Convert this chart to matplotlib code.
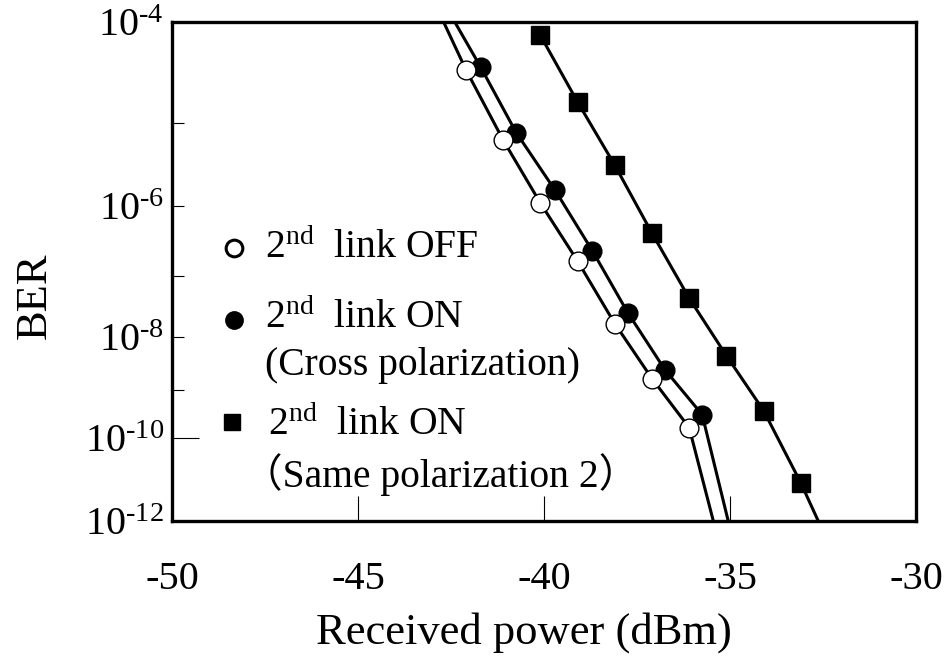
"""BER vs received power, three link conditions, on the usual
-log(-log BER) axis so the curves come out nearly straight."""

import numpy as np
import matplotlib
matplotlib.use('Agg')
import matplotlib.pyplot as plt
from matplotlib.ticker import FixedLocator, FixedFormatter

plt.rcParams['font.family'] = ['Liberation Serif', 'Noto Sans CJK JP']
plt.rcParams['mathtext.fontset'] = 'custom'
plt.rcParams['mathtext.rm'] = 'Liberation Serif'
plt.rcParams['mathtext.default'] = 'rm'
plt.rcParams['axes.unicode_minus'] = False

off_dbm = [-42.1, -41.1, -40.1, -39.1, -38.1, -37.1, -36.1]
off_ber = [3.6e-5, 6.5e-6, 1.1e-6, 1.7e-7, 1.7e-8, 1.7e-9, 1.7e-10]

cross_dbm = [-41.7, -40.75, -39.7, -38.7, -37.75, -36.75, -35.75]
cross_ber = [3.8e-5, 7.9e-6, 1.6e-6, 2.4e-7, 2.6e-8, 2.5e-9, 3.2e-10]

same_dbm = [-40.1, -39.1, -38.1, -37.1, -36.1, -35.1, -34.1, -33.1]
same_ber = [7.6e-5, 1.7e-5, 3.3e-6, 4.3e-7, 4.5e-8, 4.6e-9, 3.9e-10, 9.3e-12]

# fitted curves: run through the points, extended to the frame
fit_off_dbm = [-42.7] + off_dbm + [-35.45]
fit_off_ber = [1e-4] + off_ber + [1e-12]
fit_cross_dbm = [-42.4] + cross_dbm + [-35.05]
fit_cross_ber = [1e-4] + cross_ber + [1e-12]
fit_same_dbm = same_dbm + [-32.63]
fit_same_ber = same_ber + [1e-12]

x_ticks = [-50, -45, -40, -35, -30]
y_ticks = [1e-4, 1e-6, 1e-8, 1e-10, 1e-12]
y_ticklabels = [r'$10^{\text{-}4}$', r'$10^{\text{-}6}$', r'$10^{\text{-}8}$',
                r'$10^{\text{-}10}$', r'$10^{\text{-}12}$']
y_minor = [1e-5, 1e-7, 1e-9]


def _fwd(b):
    b = np.asarray(b, float)
    with np.errstate(all='ignore'):
        return -np.log10(-np.log10(b))


def _inv(u):
    u = np.asarray(u, float)
    return 10.0 ** (-(10.0 ** (-u)))


fig = plt.figure(figsize=(9.5, 6.57), dpi=100)
ax = fig.add_axes([0.1811, 0.2070, 0.7832, 0.7595])
ax.set_yscale('function', functions=(_fwd, _inv))

ax.plot(fit_off_dbm, fit_off_ber, '-', color='black', lw=2.2, zorder=2)
ax.plot(fit_cross_dbm, fit_cross_ber, '-', color='black', lw=2.2, zorder=2)
ax.plot(fit_same_dbm, fit_same_ber, '-', color='black', lw=2.2, zorder=2)

ax.plot(cross_dbm, cross_ber, 'o', ms=13.5, color='black', zorder=3)
ax.plot(off_dbm, off_ber, 'o', ms=13.5, mfc='white', mec='black', mew=1.0, zorder=4)
ax.plot(same_dbm, same_ber, 's', ms=13.5, color='black', zorder=3)

ax.set_xlim(-50, -30)
ax.set_ylim(1e-12, 1e-4)
ax.xaxis.set_major_locator(FixedLocator(x_ticks))
ax.yaxis.set_major_locator(FixedLocator(y_ticks))
ax.yaxis.set_major_formatter(FixedFormatter(y_ticklabels))
ax.yaxis.set_minor_locator(FixedLocator(y_minor))

for s in ax.spines.values():
    s.set_linewidth(2.4)
ax.tick_params(axis='y', which='both', direction='in', length=8.6, width=0.8,
               labelsize=29, pad=6, right=False)
ax.tick_params(axis='x', direction='in', length=18, width=0.8,
               labelsize=29, pad=29, top=False)
ax.yaxis.get_major_ticks()[3].tick1line.set_markersize(19.5)  # 1e-10 drawn longer

# legend, drawn by hand (markers sit on the first line of each entry)
tr = ax.transAxes
ax.plot([0.0837], [0.5465], 'o', transform=tr, ms=12, mfc='white', mec='black', mew=2.2)
ax.plot([0.0837], [0.4028], 'o', transform=tr, ms=12.5, color='black')
ax.plot([0.081], [0.199], 's', transform=tr, ms=11.5, color='black')
leg_kw = dict(transform=tr, fontsize=28.5, va='baseline', ha='left')
ax.text(0.125, 0.5271, r'2$^{\mathrm{nd}}$  link OFF', **leg_kw)
ax.text(0.125, 0.3868, r'2$^{\mathrm{nd}}$  link ON', **leg_kw)
ax.text(0.125, 0.2926, '(Cross polarization)', **leg_kw)
ax.text(0.129, 0.1723, r'2$^{\mathrm{nd}}$  link ON', **leg_kw)
ax.text(0.096, 0.0681, '（Same polarization 2）', **leg_kw)

fig.text(35 / 950, 1 - 296 / 657, 'BER', rotation=90, ha='center', va='center',
         fontsize=32)
fig.text(524 / 950, 1 - 633 / 657, 'Received power (dBm)', ha='center', va='center',
         fontsize=32)

fig.savefig('out.png', dpi=100)
